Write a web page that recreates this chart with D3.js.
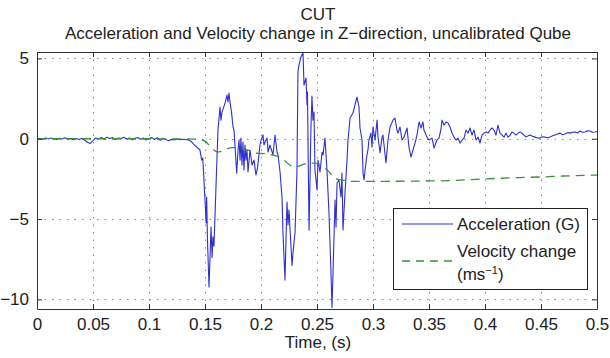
<!DOCTYPE html>
<html>
<head>
<meta charset="utf-8">
<script src="https://cdn.jsdelivr.net/npm/d3@7"></script>
<style>
  html, body { margin: 0; padding: 0; background: #fff; }
  text { font-family: "Liberation Sans", Arial, sans-serif; fill: #222; }
</style>
</head>
<body>
<svg id="chart" width="610" height="358"></svg>
<script>
// ---------------- data ----------------
const titleLines = ["CUT", "Acceleration and Velocity change in Z\u2212direction, uncalibrated Qube"];
const xLabel = "Time, (s)";
const xTicks = [0, 0.05, 0.1, 0.15, 0.2, 0.25, 0.3, 0.35, 0.4, 0.45, 0.5];
const xTickLabels = ["0", "0.05", "0.1", "0.15", "0.2", "0.25", "0.3", "0.35", "0.4", "0.45", "0.5"];
const yTicks = [5, 0, -5, -10];
const yTickLabels = ["5", "0", "\u22125", "\u221210"];
const seriesNames = ["Acceleration (G)", "Velocity change"];

// acceleration (G): [time s, value]
const acceleration = [
  [0,0.00],[0.0025,0.02],[0.005,-0.03],[0.0075,0.04],[0.01,-0.02],[0.0125,0.05],[0.015,0.00],[0.0175,-0.04],
  [0.02,0.03],[0.0225,-0.02],[0.025,0.06],[0.0275,-0.03],[0.03,0.02],[0.0325,-0.06],[0.035,0.01],[0.0375,-0.05],
  [0.04,0.03],[0.0425,-0.08],[0.045,-0.22],[0.0475,-0.30],[0.05,-0.12],[0.0525,0.05],[0.055,-0.02],[0.0575,0.08],
  [0.06,-0.03],[0.0625,0.10],[0.065,0.02],[0.0675,0.07],[0.07,-0.05],[0.0725,0.04],[0.075,0.01],[0.0775,0.09],
  [0.08,-0.02],[0.0825,0.05],[0.085,-0.06],[0.0875,0.03],[0.09,0.08],[0.0925,-0.03],[0.095,0.04],[0.0975,-0.08],
  [0.1,0.02],[0.1025,0.07],[0.105,-0.05],[0.1075,0.06],[0.11,-0.10],[0.1125,0.03],[0.115,-0.05],[0.1175,-0.12],
  [0.12,-0.04],[0.1225,-0.08],[0.125,-0.02],[0.1275,-0.06],[0.13,-0.03],[0.1325,-0.05],[0.135,-0.08],[0.1375,-0.15],
  [0.14,-0.35],[0.1455,-0.70],[0.147,-1.33],[0.148,-1.2],[0.150,-3.82],[0.151,-5.25],[0.1515,-3.63],[0.1522,-6.3],
  [0.1536,-9.23],[0.1554,-5.5],[0.1563,-7.4],[0.1571,-6.1],[0.158,-6.7],[0.1604,-1.76],[0.1616,0.54],[0.1634,1.97],
  [0.1643,1.16],[0.1652,1.66],[0.1679,2.22],[0.1696,2.72],[0.1705,2.29],[0.1714,2.85],[0.1723,2.29],[0.1737,1.66],
  [0.175,0.73],[0.1759,0.54],[0.1783,-2.14],[0.1795,-0.70],[0.1804,-0.08],[0.1813,-1.33],[0.1821,0.04],[0.183,-1.64],
  [0.1839,-0.21],[0.1848,-1.95],[0.1857,-0.39],[0.1866,-1.33],[0.1875,-0.70],[0.1884,-2.07],[0.1902,-0.70],[0.192,-1.64],
  [0.1938,-1.33],[0.1955,-2.26],[0.1969,-1.8],[0.1991,-0.39],[0.2,-0.08],[0.2018,0.23],[0.2027,-0.39],[0.2036,-0.21],
  [0.2054,0.04],[0.2063,-0.83],[0.208,-0.39],[0.2107,-1.01],[0.2125,0.23],[0.2143,-0.83],[0.2152,-1.01],[0.217,-2.07],
  [0.2188,-3.69],[0.2196,-5.81],[0.2214,-8.8],[0.2232,-3.94],[0.2241,-5.37],[0.225,-4.44],[0.2277,-7.89],[0.2286,-7.08],
  [0.2304,-5.81],[0.2321,-2.07],[0.233,4.15],[0.2339,4.59],[0.2357,5.09],[0.2375,5.35],[0.2384,3.34],[0.2402,3.78],
  [0.2411,2.1],[0.2415,2.9],[0.242,-0.39],[0.2429,-5.7],[0.2446,0.67],[0.2455,2.66],[0.2464,1.16],[0.2473,1.66],
  [0.2482,-1.95],[0.25,-3.19],[0.2509,-1.33],[0.2527,-2.07],[0.2545,-0.83],[0.2554,-1.01],[0.2571,0.04],[0.2589,-1.95],
  [0.2607,-4.63],[0.2625,-8.36],[0.2634,-10.5],[0.2643,-8.36],[0.2661,-3.82],[0.267,-5.5],[0.2679,-2.76],[0.2696,-2.57],
  [0.2714,-3.63],[0.2723,-2.14],[0.2732,-5.68],[0.275,-3.38],[0.2768,-1.33],[0.2777,-0.08],[0.2795,1.29],[0.2821,1.6],
  [0.2839,2.1],[0.2857,2.6],[0.2875,1.97],[0.2884,0.67],[0.2902,-0.08],[0.2911,-2.14],[0.292,-2.57],[0.2929,-1.95],
  [0.2946,-1.01],[0.2955,-0.7],[0.2964,-0.08],[0.2982,0.35],[0.2991,-0.52],[0.3,0.73],[0.3018,-0.08],[0.3036,1.16],
  [0.3045,0.1],[0.3063,-0.89],[0.308,0.1],[0.3089,0.23],[0.3116,-1.51],[0.3134,-0.08],[0.3152,0.73],[0.3179,1.16],
  [0.3196,1.29],[0.3214,0.54],[0.3223,0.35],[0.3241,0.73],[0.3259,-0.08],[0.3277,0.1],[0.3304,0.67],[0.3321,-0.52],
  [0.3339,-1.14],[0.3357,-0.7],[0.3375,-0.27],[0.3393,0.23],[0.3411,1.04],[0.3429,0.67],[0.3446,1.04],[0.3455,0.54],
  [0.3482,0.1],[0.35,-0.08],[0.3527,0.04],[0.3545,-0.58],[0.3571,-0.08],[0.3589,0.04],[0.3607,0.6],[0.3616,1.16],
  [0.3634,0.85],[0.3652,1.04],[0.367,0.98],[0.3688,0.73],[0.3705,0.35],[0.3723,0.1],[0.3741,-0.08],[0.3759,0.04],
  [0.3777,-0.27],[0.3795,-0.08],[0.3813,0.04],[0.383,0.54],[0.3848,0.35],[0.3866,0.67],[0.3884,0.23],[0.3902,0.54],
  [0.392,-0.08],[0.3938,0.1],[0.3955,-0.27],[0.3973,0.23],[0.3991,0.35],[0.4009,0.42],[0.4027,0.35],[0.4045,0.54],
  [0.4063,0.67],[0.408,0.54],[0.4098,0.23],[0.4116,0.85],[0.4134,0.35],[0.4152,0.23],[0.417,0.1],[0.4188,0.35],
  [0.4205,0.1],[0.4223,0.2],[0.4241,0.42],[0.4259,0.35],[0.4277,0.23],[0.4295,0.35],[0.4313,0.42],[0.433,0.35],
  [0.4348,0.23],[0.4366,0.1],[0.4384,0.18],[0.4402,0.23],[0.4424,0.15],[0.4446,0.1],[0.4469,0.05],[0.4491,0.04],
  [0.4513,0.12],[0.4536,0.1],[0.4558,0.06],[0.458,0.1],[0.4603,0.18],[0.4625,0.23],[0.4648,0.3],[0.467,0.35],
  [0.4692,0.25],[0.4714,0.29],[0.4737,0.38],[0.4759,0.35],[0.4781,0.4],[0.4804,0.42],[0.4826,0.36],[0.4848,0.48],
  [0.4871,0.4],[0.4893,0.42],[0.4915,0.5],[0.4938,0.48],[0.496,0.4],[0.4982,0.42],[0.5,0.45]
];

// velocity change (m/s): [time s, value]
const velocity = [
  [0,0],[0.05,0],[0.1,0],[0.14,-0.02],[0.145,-0.05],[0.15,-0.15],[0.155,-0.5],[0.158,-0.7],[0.161,-0.82],
  [0.165,-0.78],[0.17,-0.62],[0.175,-0.55],[0.18,-0.55],[0.185,-0.65],[0.19,-0.75],[0.195,-0.9],[0.2,-0.92],
  [0.205,-0.93],[0.21,-1.0],[0.215,-1.1],[0.22,-1.3],[0.225,-1.6],[0.23,-1.75],[0.234,-1.7],[0.238,-1.6],
  [0.242,-1.52],[0.248,-1.52],[0.254,-1.65],[0.26,-2.0],[0.265,-2.4],[0.27,-2.55],[0.275,-2.6],[0.28,-2.65],
  [0.3,-2.65],[0.35,-2.63],[0.37,-2.6],[0.4,-2.5],[0.43,-2.42],[0.45,-2.38],[0.47,-2.32],[0.5,-2.26]
];

// ---------------- layout ----------------
const svg = d3.select("#chart");
const L = 37, R = 597, T = 52, B = 309;
const x = d3.scaleLinear().domain([0, 0.5]).range([L, R]);
const y = d3.scaleLinear().domain([-10.6, 5.4]).range([B, T]);
const blue = "#2f2fd2", green = "#3a933a";

svg.append("rect").attr("width", 610).attr("height", 358).attr("fill", "#fff");

// grid
const grid = svg.append("g").attr("stroke", "#8a8a8a").attr("stroke-width", 1).attr("stroke-dasharray", "1.5,6");
grid.selectAll("line.gx").data(xTicks.slice(1, -1)).join("line")
  .attr("x1", d => Math.round(x(d)) + 0.5).attr("x2", d => Math.round(x(d)) + 0.5)
  .attr("y1", T).attr("y2", B);
grid.selectAll("line.gy").data(yTicks).join("line")
  .attr("y1", d => Math.round(y(d)) + 0.5).attr("y2", d => Math.round(y(d)) + 0.5)
  .attr("x1", L).attr("x2", R);

// clip
svg.append("clipPath").attr("id", "clip").append("rect")
  .attr("x", L).attr("y", T).attr("width", R - L).attr("height", B - T);

const line = d3.line().x(d => x(d[0])).y(d => y(d[1]));
const plot = svg.append("g").attr("clip-path", "url(#clip)");
plot.append("path").datum(acceleration).attr("d", line)
  .attr("fill", "none").attr("stroke", blue).attr("stroke-width", 1.1).attr("stroke-linejoin", "round");
plot.append("path").datum(velocity).attr("d", line.curve(d3.curveMonotoneX))
  .attr("fill", "none").attr("stroke", green).attr("stroke-width", 1.3).attr("stroke-dasharray", "9,6");

// axes (ticks inward, box)
const fmtX = (d, i) => xTickLabels[xTicks.indexOf(d)];
const fmtY = d => yTickLabels[yTicks.indexOf(d)];
const axB = svg.append("g").attr("transform", `translate(0,${B})`)
  .call(d3.axisBottom(x).tickValues(xTicks).tickFormat(fmtX).tickSize(-5).tickSizeOuter(0).tickPadding(9));
const axT = svg.append("g").attr("transform", `translate(0,${T})`)
  .call(d3.axisTop(x).tickValues(xTicks).tickFormat("").tickSize(-5).tickSizeOuter(0));
const axL = svg.append("g").attr("transform", `translate(${L},0)`)
  .call(d3.axisLeft(y).tickValues(yTicks).tickFormat(fmtY).tickSize(-5).tickSizeOuter(0).tickPadding(8));
const axR = svg.append("g").attr("transform", `translate(${R},0)`)
  .call(d3.axisRight(y).tickValues(yTicks).tickFormat("").tickSize(-5).tickSizeOuter(0));
[axB, axT, axL, axR].forEach(a => {
  a.select(".domain").attr("stroke", "#333");
  a.selectAll(".tick line").attr("stroke", "#333");
  a.selectAll("text").attr("font-size", 17).attr("font-family", "Liberation Sans, Arial, sans-serif").attr("fill", "#222");
});

// titles
svg.append("text").attr("x", 318).attr("y", 20).attr("text-anchor", "middle").attr("font-size", 17).text(titleLines[0]);
svg.append("text").attr("x", 318).attr("y", 39).attr("text-anchor", "middle").attr("font-size", 17).text(titleLines[1]);
svg.append("text").attr("x", 318).attr("y", 348).attr("text-anchor", "middle").attr("font-size", 17).text(xLabel);

// legend
const lg = svg.append("g");
lg.append("rect").attr("x", 393.5).attr("y", 208.5).attr("width", 194).attr("height", 81)
  .attr("fill", "#fff").attr("stroke", "#222").attr("stroke-width", 1);
lg.append("line").attr("x1", 402).attr("x2", 453).attr("y1", 224).attr("y2", 224)
  .attr("stroke", blue).attr("stroke-width", 1.1);
lg.append("line").attr("x1", 402).attr("x2", 453).attr("y1", 261).attr("y2", 261)
  .attr("stroke", green).attr("stroke-width", 1.3).attr("stroke-dasharray", "8,6");
lg.append("text").attr("x", 457).attr("y", 230).attr("font-size", 17).text(seriesNames[0]);
lg.append("text").attr("x", 457).attr("y", 257).attr("font-size", 17).text(seriesNames[1]);
const t3 = lg.append("text").attr("x", 457).attr("y", 280).attr("font-size", 17);
t3.append("tspan").text("(ms");
t3.append("tspan").attr("dy", -6).attr("font-size", 11).text("\u22121");
t3.append("tspan").attr("dy", 6).text(")");
</script>
</body>
</html>
